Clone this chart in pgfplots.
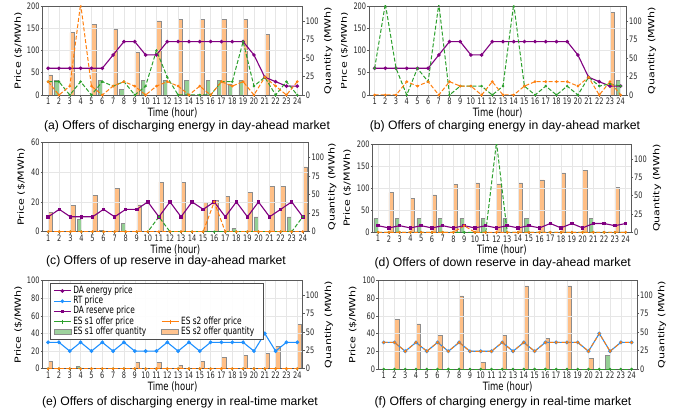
\documentclass[border=0pt]{standalone}
\usepackage{pgfplots}
\pgfplotsset{compat=1.18}
\usepackage{graphicx}
\usepackage{fontspec}
\setmainfont{Liberation Sans}
\newfontfamily\djv{DejaVu Sans}
\newcommand\tfont{\djv\fontsize{6.6}{7}\selectfont}
\newcommand\lfont{\djv\fontsize{8.5}{9}\selectfont}
\newcommand\legfont{\djv\fontsize{7.4}{8}\selectfont}
\newcommand\vs[1]{\scalebox{1}[1.35]{#1}}
\newcommand\hs[1]{\scalebox{1.3}[1]{#1}}
\definecolor{cpur}{HTML}{800080}
\definecolor{cblue}{HTML}{1E90FF}
\definecolor{cgreen}{HTML}{2CA02C}
\definecolor{corange}{HTML}{FF7F0E}
\definecolor{gfill}{HTML}{95CF95}
\definecolor{ofill}{HTML}{FFBF86}
\definecolor{bedge}{HTML}{8C8C8C}
\definecolor{spine}{HTML}{5A5A5A}
\definecolor{gridc}{HTML}{E6E6E6}
\pgfplotsset{
 base/.style={scale only axis, xmin=0.5, xmax=24.5, ymin=0,
   axis line style={spine, line width=0.6pt},
   every tick/.style={spine, line width=0.5pt},
   tick align=outside, major tick length=2pt,
   tick label style={font=\tfont, text=black!85, inner sep=1pt},
   /pgf/number format/assume math mode=true,
   xtick={1,...,24}},
 qax/.style={base, ymax=120, ytick={0,25,50,75,100}, axis x line=none, axis y line*=right,
   yticklabel={\vs{\pgfmathprintnumber{\tick}}}},
 pax/.style={base, xtick pos=left, ytick pos=left, grid=major,
   major grid style={gridc, line width=0.5pt},
   xticklabel={\vs{\pgfmathprintnumber{\tick}}},
   yticklabel={\vs{\pgfmathprintnumber{\tick}}}},
 gbar/.style={ybar, bar width=0.4, bar shift=-0.2, fill=gfill, draw=bedge, line width=0.5pt},
 obar/.style={ybar, bar width=0.4, bar shift=0.2, fill=ofill, draw=bedge, line width=0.5pt},
 pline/.style={cpur, line width=1.1pt, mark=*, mark size=1.2pt},
 rline/.style={cpur, line width=1.1pt, mark=square*, mark size=1.2pt},
 bline/.style={cblue, line width=1.1pt, mark=*, mark size=1.3pt},
 gline/.style={cgreen, line width=1pt, dash pattern=on 4pt off 2pt, mark=*, mark size=0.7pt, mark options={solid}},
 oline/.style={corange, line width=1pt, dash pattern=on 4pt off 2pt, mark=*, mark size=0.8pt, mark options={solid}},
}
\begin{document}
\begin{tikzpicture}
\path[use as bounding box] (0pt,0pt) rectangle (682pt,418pt);
% ---------------- (a)
\begin{axis}[qax, at={(42.7pt,323pt)}, width=260pt, height=89pt]
\addplot[gbar] coordinates {(2,20)(6,20)(8,8)(10,20)(12,20)(14,20)(16,20)(17,20)(18,15)(19,20)};
\addplot[obar] coordinates {(1,27)(3,84)(5,95.5)(7,88)(9,57)(11,100)(13,101.5)(15,101.5)(17,101.5)(19,101.5)(21,82)};
\end{axis}
\begin{axis}[pax, at={(42.7pt,323pt)}, width=260pt, height=89pt, ymax=200, ytick={0,50,100,150,200}]
\addplot[pline] coordinates {(1,60)(2,60)(3,60)(4,60)(5,60)(6,60)(7,90)(8,120)(9,120)(10,90)(11,90)(12,120)(13,120)(14,120)(15,120)(16,120)(17,120)(18,120)(19,120)(20,90)(21,40)(22,30)(23,20)(24,20)};
\addplot[gline] coordinates {(1,30)(2,30)(3,0)(4,30)(5,0)(6,30)(7,20)(8,30)(9,0)(10,20)(11,100)(12,40)(13,0)(14,0)(15,0)(16,0)(17,30)(18,30)(19,120)(20,20)(21,40)(22,0)(23,30)(24,0)};
\addplot[oline] coordinates {(1,30)(2,0)(3,20)(4,205)(5,20)(6,0)(7,20)(8,30)(9,20)(10,0)(11,20)(12,30)(13,20)(14,0)(15,20)(16,0)(17,30)(18,20)(19,30)(20,0)(21,40)(22,20)(23,0)(24,30)};
\end{axis}
\node[font=\lfont] at (172.7pt,305pt) {\vs{Time (hour)}};
\node[font=\lfont, rotate=90] at (18.3pt,367.5pt) {\hs{Price (\$/MWh)}};
\node[font=\lfont, rotate=90] at (328.2pt,367.5pt) {\hs{Quantity (MWh)}};
\node[font=\fontsize{12.2}{14}\selectfont] at (187pt,291.3pt) {(a) Offers of discharging energy in day-ahead market};
% ---------------- (c)
\begin{axis}[qax, at={(42.7pt,186.3pt)}, width=265.6pt, height=89.4pt]
\addplot[gbar] coordinates {(4,17)(6,1.5)(8,11)(18,4.5)(20,20)(23,20)};
\addplot[obar] coordinates {(1,26)(3,35)(5,49)(7,58.5)(9,36)(11,66.7)(13,66.7)(15,39)(16,42)(17,47)(19,53)(21,61)(22,61)(24,87)};
\end{axis}
\begin{axis}[pax, at={(42.7pt,186.3pt)}, width=265.6pt, height=89.4pt, ymax=60, ytick={0,20,40,60}]
\addplot[rline] coordinates {(1,10)(2,15)(3,10)(4,10)(5,10)(6,15)(7,10)(8,15)(9,15)(10,20)(11,10)(12,20)(13,10)(14,20)(15,15)(16,20)(17,10)(18,20)(19,10)(20,20)(21,10)(22,15)(23,20)(24,10)};
\addplot[gline] coordinates {(1,0)(2,0)(3,0)(4,0)(5,0)(6,0)(7,0)(8,0)(9,0)(10,0)(11,10)(12,0)(13,0)(14,0)(15,0)(16,0)(17,0)(18,0)(19,0)(20,0)(21,0)(22,0)(23,0)(24,10)};
\addplot[oline] coordinates {(1,0)(2,0)(3,0)(4,0)(5,0)(6,0)(7,0)(8,0)(9,0)(10,0)(11,0)(12,0)(13,0)(14,0)(15,0)(16,20)(17,0)(18,0)(19,0)(20,0)(21,0)(22,0)(23,0)(24,0)};
\end{axis}
\node[font=\lfont] at (175.5pt,168.3pt) {\vs{Time (hour)}};
\node[font=\lfont, rotate=90] at (21.2pt,231pt) {\hs{Price (\$/MWh)}};
\node[font=\lfont, rotate=90] at (332.3pt,231pt) {\hs{Quantity (MWh)}};
\node[font=\fontsize{12.2}{14}\selectfont] at (166pt,156.3pt) {(c) Offers of up reserve in day-ahead market};
% ---------------- (e)
\begin{axis}[qax, at={(42.7pt,49.3pt)}, width=260pt, height=88pt]
\addplot[gbar] coordinates {(4,3)};
\addplot[obar] coordinates {(1,10)(9,8.7)(11,8.7)(13,4.6)(15,10)(17,15.5)(19,17.7)(21,21)(22,30)(24,60)};
\end{axis}
\begin{axis}[pax, at={(42.7pt,49.3pt)}, width=260pt, height=88pt, ymax=100, ytick={0,20,40,60,80,100},
  legend columns=2, legend cell align=left,
  legend style={at={(0.028,0.974)}, anchor=north west, draw=black!70, line width=0.6pt,
    fill=white, fill opacity=0.92, text opacity=1, draw opacity=1, font=\legfont,
    inner xsep=3pt, inner ysep=2.5pt,
    nodes={inner ysep=0.3pt, inner xsep=1.8pt, text height=7.2pt, text depth=2.5pt},
    row sep=0pt, /tikz/every even column/.append style={column sep=13pt}}]
\addplot[bline, forget plot] coordinates {(1,30)(2,30)(3,20)(4,30)(5,20)(6,30)(7,20)(8,30)(9,20)(10,20)(11,20)(12,30)(13,20)(14,30)(15,20)(16,30)(17,30)(18,30)(19,30)(20,20)(21,40)(22,20)(23,30)(24,30)};
\addplot[gline, forget plot] coordinates {(1,0)(2,0)(3,0)(4,0)(5,0)(6,0)(7,0)(8,0)(9,0)(10,0)(11,0)(12,0)(13,0)(14,0)(15,0)(16,0)(17,0)(18,0)(19,0)(20,0)(21,0)(22,0)(23,0)(24,0)};
\addplot[oline, forget plot] coordinates {(1,0)(2,0)(3,0)(4,0)(5,0)(6,0)(7,0)(8,0)(9,0)(10,0)(11,0)(12,0)(13,0)(14,0)(15,0)(16,0)(17,0)(18,0)(19,0)(20,0)(21,0)(22,0)(23,0)(24,0)};
\addlegendimage{pline}\addlegendentry{\vs{DA energy price}}
\addlegendimage{empty legend}\addlegendentry{}
\addlegendimage{bline}\addlegendentry{\vs{RT price}}
\addlegendimage{empty legend}\addlegendentry{}
\addlegendimage{rline}\addlegendentry{\vs{DA reserve price}}
\addlegendimage{empty legend}\addlegendentry{}
\addlegendimage{cgreen, line width=1.1pt, mark=+, mark size=2.2pt, mark options={line width=1pt}}\addlegendentry{\vs{ES s1 offer price}}
\addlegendimage{corange, line width=1.1pt, mark=+, mark size=2.2pt, mark options={line width=1pt}}\addlegendentry{\vs{ES s2 offer price}\hspace*{6pt}}
\addlegendimage{legend image code/.code={\draw[fill=gfill, draw=bedge, line width=0.6pt] (0pt,-2.6pt) rectangle (17pt,2.8pt);}}\addlegendentry{\vs{ES s1 offer quantity}}
\addlegendimage{legend image code/.code={\draw[fill=ofill, draw=bedge, line width=0.6pt] (0pt,-2.6pt) rectangle (17pt,2.8pt);}}\addlegendentry{\vs{ES s2 offer quantity}\hspace*{4pt}}
\end{axis}
\node[font=\lfont] at (172.7pt,31.3pt) {\vs{Time (hour)}};
\node[font=\lfont, rotate=90] at (18.3pt,93.3pt) {\hs{Price (\$/MWh)}};
\node[font=\lfont, rotate=90] at (328.7pt,93.3pt) {\hs{Quantity (MWh)}};
\node[font=\fontsize{12.2}{14}\selectfont] at (180pt,15.3pt) {(e) Offers of discharging energy in real-time market};
% ================= right column
\begin{scope}
\clip (341pt,0pt) rectangle (682pt,418pt);
% ---------------- (b)
\begin{axis}[qax, at={(369.3pt,323pt)}, width=256.7pt, height=89pt]
\addplot[gbar] coordinates {(24,20)};
\addplot[obar] coordinates {(23,112)};
\end{axis}
\begin{axis}[pax, at={(369.3pt,323pt)}, width=256.7pt, height=89pt, ymax=200, ytick={0,50,100,150,200}]
\addplot[pline] coordinates {(1,60)(2,60)(3,60)(4,60)(5,60)(6,60)(7,90)(8,120)(9,120)(10,90)(11,90)(12,120)(13,120)(14,120)(15,120)(16,120)(17,120)(18,120)(19,120)(20,90)(21,40)(22,30)(23,20)(24,20)};
\addplot[gline] coordinates {(1,60)(2,205)(3,60)(4,0)(5,60)(6,30)(7,205)(8,0)(9,20)(10,20)(11,20)(12,0)(13,20)(14,205)(15,20)(16,0)(17,20)(18,0)(19,20)(20,0)(21,40)(22,20)(23,25)(24,20)};
\addplot[oline] coordinates {(1,0)(2,0)(3,0)(4,30)(5,20)(6,30)(7,0)(8,30)(9,20)(10,20)(11,0)(12,30)(13,0)(14,0)(15,20)(16,30)(17,30)(18,30)(19,30)(20,20)(21,40)(22,0)(23,30)(24,0)};
\end{axis}
\node[font=\lfont] at (497.6pt,305pt) {\vs{Time (hour)}};
\node[font=\lfont, rotate=90] at (344.3pt,367.5pt) {\hs{Price (\$/MWh)}};
\node[font=\lfont, rotate=90] at (652pt,367.5pt) {\hs{Quantity (MWh)}};
\node[font=\fontsize{12.2}{14}\selectfont] at (505pt,291.3pt) {(b) Offers of charging energy in day-ahead market};
% ---------------- (d)
\begin{axis}[qax, at={(372.7pt,185.7pt)}, width=258.3pt, height=88pt]
\addplot[gbar] coordinates {(1,19)(3,19)(5,19)(7,19)(9,19)(11,19)(13,19)(15,19)(21,19)};
\addplot[obar] coordinates {(2,54)(4,46)(6,51)(8,65)(10,67.5)(12,66)(14,67.5)(16,71.6)(18,81)(20,84)(23,61)};
\end{axis}
\begin{axis}[pax, at={(372.7pt,185.7pt)}, width=258.3pt, height=88pt, ymax=200, ytick={0,50,100,150,200}]
\addplot[rline] coordinates {(1,15)(2,10)(3,15)(4,10)(5,15)(6,10)(7,15)(8,10)(9,15)(10,10)(11,15)(12,10)(13,15)(14,10)(15,15)(16,10)(17,20)(18,10)(19,20)(20,10)(21,20)(22,20)(23,15)(24,20)};
\addplot[gline] coordinates {(1,0)(2,0)(3,0)(4,0)(5,0)(6,0)(7,0)(8,0)(9,0)(10,0)(11,0)(12,205)(13,0)(14,0)(15,0)(16,0)(17,0)(18,0)(19,0)(20,0)(21,0)(22,0)(23,0)(24,0)};
\addplot[oline] coordinates {(1,0)(2,0)(3,0)(4,0)(5,0)(6,0)(7,0)(8,0)(9,15)(10,0)(11,0)(12,0)(13,0)(14,0)(15,0)(16,0)(17,0)(18,0)(19,0)(20,0)(21,0)(22,0)(23,0)(24,0)};
\end{axis}
\node[font=\lfont] at (501.9pt,167.7pt) {\vs{Time (hour)}};
\node[font=\lfont, rotate=90] at (347.2pt,229.7pt) {\hs{Price (\$/MWh)}};
\node[font=\lfont, rotate=90] at (657pt,229.7pt) {\hs{Quantity (MWh)}};
\node[font=\fontsize{12.2}{14}\selectfont] at (502.7pt,155pt) {(d) Offers of down reserve in day-ahead market};
% ---------------- (f)
\begin{axis}[qax, at={(378.3pt,49pt)}, width=258.7pt, height=88.7pt]
\addplot[gbar] coordinates {(22,18.5)};
\addplot[obar] coordinates {(2,67)(4,61)(6,45)(8,99)(10,8.5)(12,45)(14,112.6)(16,41.4)(18,112.6)(20,14)};
\end{axis}
\begin{axis}[pax, at={(378.3pt,49pt)}, width=258.7pt, height=88.7pt, ymax=100, ytick={0,20,40,60,80,100}]
\addplot[bline] coordinates {(1,30)(2,30)(3,20)(4,30)(5,20)(6,30)(7,20)(8,30)(9,20)(10,20)(11,20)(12,30)(13,20)(14,30)(15,20)(16,30)(17,30)(18,30)(19,30)(20,20)(21,40)(22,20)(23,30)(24,30)};
\addplot[gline] coordinates {(1,0)(2,0)(3,0)(4,0)(5,0)(6,0)(7,0)(8,0)(9,0)(10,0)(11,0)(12,0)(13,0)(14,0)(15,0)(16,0)(17,0)(18,0)(19,0)(20,0)(21,0)(22,0)(23,0)(24,0)};
\addplot[oline] coordinates {(1,30)(2,30)(3,20)(4,30)(5,20)(6,30)(7,20)(8,30)(9,20)(10,20)(11,20)(12,30)(13,20)(14,30)(15,20)(16,30)(17,30)(18,30)(19,30)(20,20)(21,40)(22,20)(23,30)(24,30)};
\end{axis}
\node[font=\lfont] at (507.7pt,31pt) {\vs{Time (hour)}};
\node[font=\lfont, rotate=90] at (352.8pt,93.35pt) {\hs{Price (\$/MWh)}};
\node[font=\lfont, rotate=90] at (662pt,93.35pt) {\hs{Quantity (MWh)}};
\node[font=\fontsize{12.2}{14}\selectfont] at (503pt,15.3pt) {(f) Offers of charging energy in real-time market};
\end{scope}
\end{tikzpicture}
\end{document}
